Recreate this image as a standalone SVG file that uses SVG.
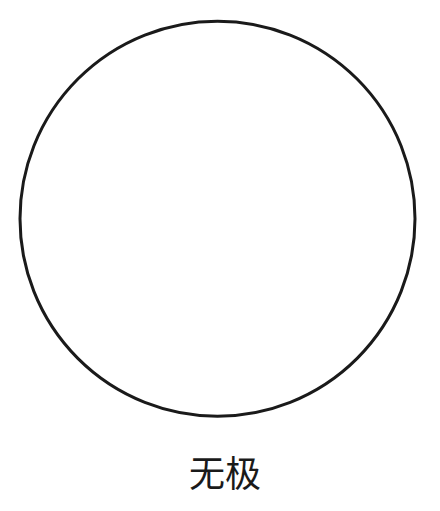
<svg xmlns="http://www.w3.org/2000/svg" width="440" height="511" viewBox="0 0 440 511">
<style>
.ring{fill:none;stroke:#1a1a1a;stroke-width:3}
.label{font-family:"Liberation Serif","Noto Sans CJK SC",serif;font-size:36px;fill:#1a1a1a;text-anchor:middle}
</style>
<rect width="440" height="511" fill="#ffffff"/>
<g id="wuji">
<circle class="ring" cx="217.5" cy="218.7" r="197.5"/>
</g>
<g id="caption">
<text class="label" x="225" y="487">无极</text>
</g>
</svg>
